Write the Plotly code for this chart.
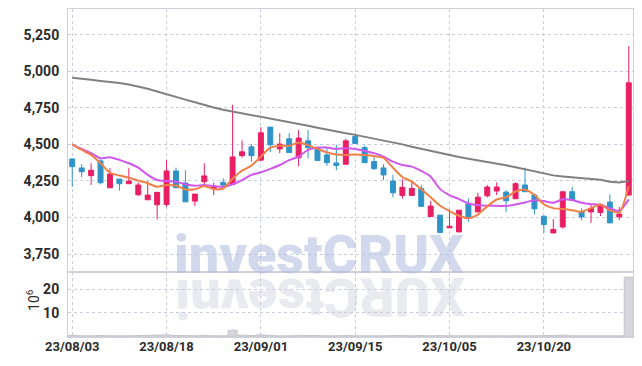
import plotly.graph_objects as go

dates = ["23/08/03","23/08/04","23/08/07","23/08/08","23/08/09","23/08/10","23/08/11","23/08/14","23/08/16","23/08/17",
         "23/08/18","23/08/21","23/08/22","23/08/23","23/08/24","23/08/25","23/08/28","23/08/29","23/08/30","23/08/31",
         "23/09/01","23/09/04","23/09/05","23/09/06","23/09/07","23/09/08","23/09/11","23/09/12","23/09/13","23/09/14",
         "23/09/15","23/09/18","23/09/19","23/09/20","23/09/21","23/09/22","23/09/25","23/09/26","23/09/27","23/10/04",
         "23/10/05","23/10/06","23/10/10","23/10/11","23/10/12","23/10/13","23/10/16","23/10/17","23/10/18","23/10/19",
         "23/10/20","23/10/23","23/10/24","23/10/25","23/10/26","23/10/27","23/10/30","23/10/31","23/11/01","23/11/02"]

open_ = [4400,4339,4286,4387,4203,4263,4231,4155,4121,4087,
         4089,4318,4236,4112,4245,4196,4240,4227,4423,4483,
         4392,4618,4469,4538,4409,4524,4474,4428,4373,4364,
         4554,4478,4382,4339,4249,4151,4151,4199,4007,4016,
         3929,3901,4093,4038,4148,4181,4174,4128,4222,4153,
         4009,3894,3935,4176,4038,4038,4034,4105,4004,4153]
high = [4405,4364,4371,4398,4337,4263,4337,4240,4249,4172,
        4392,4341,4323,4160,4371,4238,4268,4771,4526,4504,
        4618,4618,4577,4577,4598,4598,4485,4474,4497,4538,
        4577,4492,4428,4364,4291,4263,4245,4222,4114,4016,
        4055,4050,4130,4169,4222,4240,4185,4240,4341,4153,
        4009,3988,4176,4210,4062,4096,4096,4158,4073,5172]
low = [4210,4275,4222,4227,4203,4183,4231,4148,4121,3986,
       4071,4203,4107,4078,4222,4153,4199,4227,4409,4382,
       4392,4447,4440,4444,4350,4405,4389,4354,4323,4364,
       4506,4375,4323,4256,4137,4128,4151,4076,4007,3897,
       3929,3901,3970,4038,4137,4153,4038,4128,4176,4021,
       3894,3894,3924,4119,3981,3963,4009,3963,3981,4153]
close = [4348,4313,4323,4238,4297,4231,4249,4222,4153,4172,
         4318,4203,4107,4160,4284,4210,4222,4414,4449,4423,
         4579,4497,4502,4444,4543,4478,4389,4375,4355,4524,
         4506,4375,4334,4291,4169,4206,4199,4076,4078,3897,
         3940,4050,4000,4139,4208,4208,4114,4231,4176,4059,
         3952,3918,4176,4119,4004,4062,4087,3963,4023,4921]

ma_short = [4500,4462,4428,4371,4306,4287,4272,4252,4234,4210,
            4222,4218,4192,4193,4215,4194,4198,4265,4320,4355,
            4416,4477,4491,4490,4512,4495,4470,4445,4430,4428,
            4431,4427,4420,4407,4340,4277,4245,4193,4138,4080,
            4044,4012,3995,4020,4076,4123,4138,4178,4190,4155,
            4090,4064,4058,4050,4040,4064,4088,4048,4033,4216]
ma_mid = [4497,4469,4440,4405,4412,4394,4371,4341,4291,4256,
          4249,4245,4227,4217,4222,4215,4210,4227,4256,4291,
          4309,4332,4359,4392,4416,4462,4478,4478,4469,4474,
          4469,4455,4440,4416,4382,4359,4348,4318,4279,4194,
          4153,4126,4096,4085,4080,4080,4078,4089,4103,4117,
          4112,4100,4124,4119,4100,4091,4087,4062,4045,4124]
ma_long = [4955,4950,4942,4934,4928,4920,4910,4897,4880,4862,
           4845,4826,4806,4788,4769,4752,4737,4725,4714,4702,
           4691,4679,4667,4654,4641,4628,4614,4600,4588,4576,
           4565,4553,4541,4528,4514,4500,4484,4469,4454,4438,
           4423,4413,4402,4392,4382,4370,4357,4343,4329,4315,
           4298,4288,4281,4275,4270,4265,4258,4245,4240,4249]
volume = [0.4,0.2,0.2,0.3,0.2,0.2,0.2,0.3,0.4,0.5,
          0.6,0.3,0.3,0.2,0.4,0.2,0.2,2.6,0.5,0.3,
          0.6,0.4,0.2,0.2,0.4,0.3,0.3,0.2,0.2,0.3,
          0.2,0.2,0.2,0.2,0.3,0.3,0.2,0.3,0.2,0.3,
          0.2,0.2,0.2,0.2,0.2,0.2,0.2,0.2,0.2,0.2,
          0.3,0.3,0.5,0.2,0.2,0.2,0.2,0.2,0.2,25.3]

price_ticks = [3750, 4000, 4250, 4500, 4750, 5000, 5250]
vol_ticks = [10, 20]
x_ticks = dates[::10]

RED = "#e91e63"
BLUE = "#2f93c8"
GRID = "#c9cce0"
AXL = "#cfd0dc"
FONT = "Roboto, Lato, sans-serif"
TICKFONT = dict(family=FONT, size=14, color="#2b2b2b", weight="bold")

fig = go.Figure()
fig.add_trace(go.Bar(x=dates, y=volume, marker=dict(color="#d6d6dc", line=dict(color="#c4c4cc", width=1)),
                     xaxis="x2", yaxis="y2", showlegend=False, hoverinfo="skip"))
fig.add_trace(go.Scatter(x=dates, y=ma_long, mode="lines", line=dict(color="#808080", width=2), showlegend=False))
fig.add_trace(go.Scatter(x=dates, y=ma_mid, mode="lines", line=dict(color="#cf57ec", width=2, shape="spline", smoothing=0.6), showlegend=False))
fig.add_trace(go.Scatter(x=dates, y=ma_short, mode="lines", line=dict(color="#ef8048", width=2, shape="spline", smoothing=0.6), showlegend=False))
fig.add_trace(go.Candlestick(x=dates, open=open_, high=high, low=low, close=close,
                             increasing=dict(line=dict(color=RED, width=1), fillcolor=RED),
                             decreasing=dict(line=dict(color=BLUE, width=1), fillcolor=BLUE),
                             whiskerwidth=0, showlegend=False))

vol_frac = 65 / 328
axis_common = dict(showgrid=True, gridcolor=GRID, griddash="dot", gridwidth=1, automargin=False,
                   showline=True, linecolor=AXL, linewidth=1, mirror=True, zeroline=False)
fig.update_layout(
    template="none",
    width=634, height=358,
    margin=dict(l=60, r=9, t=1, b=29),
    paper_bgcolor="white", plot_bgcolor="white",
    boxgap=0.25,
    bargap=0.04,
    showlegend=False,
    xaxis=dict(type="category", domain=[0, 1], anchor="y", range=[-0.45, 59.45],
               rangeslider=dict(visible=False), showticklabels=False,
               tickvals=x_ticks, ticks="", **axis_common),
    yaxis=dict(domain=[vol_frac, 1], range=[3627, 5426], tickvals=price_ticks,
               tickformat=",", ticks="", ticklabelstandoff=5,
               tickfont=TICKFONT, **axis_common),
    xaxis2=dict(type="category", domain=[0, 1], anchor="y2", matches="x", range=[-0.45, 59.45],
                tickvals=x_ticks, ticktext=x_ticks, ticks="", ticklabelstandoff=-3,
                tickfont=dict(family=FONT, size=13, color="#2b2b2b", weight="bold"), **axis_common),
    yaxis2=dict(domain=[0, vol_frac], range=[-0.3, 27.5], tickvals=vol_ticks, ticks="", ticklabelstandoff=5,
                tickfont=TICKFONT, **axis_common),
    font=dict(family=FONT),
    annotations=[
        dict(text="investCRUX", xref="paper", yref="paper", x=0.445, y=0.15, xanchor="center", yanchor="bottom",
             showarrow=False, font=dict(family="Roboto, Liberation Sans, sans-serif", size=54, color="rgba(175,186,220,0.55)", weight=900)),
        dict(text="XURCtsevni", xref="paper", yref="paper", x=0.445, y=0.228, xanchor="center", yanchor="top",
             textangle=179.5,
             showarrow=False, font=dict(family="Roboto, Liberation Sans, sans-serif", size=54, color="rgba(200,200,218,0.4)", weight=900)),
        dict(text="10<sup>6</sup>", xref="paper", yref="paper", x=-0.062, y=0.113, xanchor="center", yanchor="middle",
             textangle=-90, showarrow=False, font=dict(family=FONT, size=14, color="#2b2b2b")),
    ],
)
fig.write_html("out.html")
